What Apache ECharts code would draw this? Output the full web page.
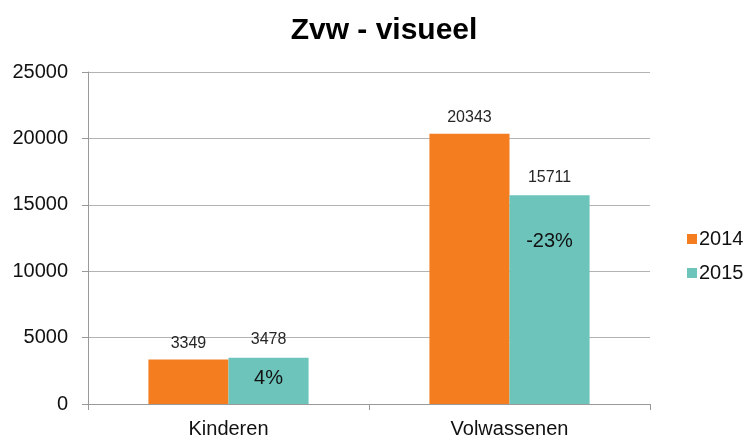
<!DOCTYPE html>
<html>
<head>
<meta charset="utf-8">
<script src="https://cdn.jsdelivr.net/npm/echarts@6/dist/echarts.min.js"></script>
<style>
  html, body { margin: 0; padding: 0; background: #fff; }
  #chart { width: 744px; height: 439px; }
</style>
</head>
<body>
<div id="chart"></div>
<script>
// data
const categories = ['Kinderen', 'Volwassenen'];
const values2014 = [3349, 20343];
const values2015 = [3478, 15711];
const changes = ['4%', '-23%'];
const yTicks = { min: 0, max: 25000, interval: 5000 };

const chart = echarts.init(document.getElementById('chart'));

// percent sits inside the 2015 bar, value above it
const pctLine = [58, 108];
const data2015 = values2015.map(function (v, i) {
    return {
        value: v,
        label: {
            formatter: '{v|' + v + '}\n{p|' + changes[i] + '}',
            rich: {
                v: { fontSize: 16, lineHeight: 20, color: '#262626', fontFamily: 'Liberation Sans' },
                p: { fontSize: 20, lineHeight: pctLine[i], color: '#111', fontFamily: 'Liberation Sans' }
            }
        }
    };
});

const option = {
    animation: false,
    title: {
        text: 'Zvw - visueel',
        left: 379,
        top: 11,
        textAlign: 'center',
        textStyle: { fontSize: 30, fontWeight: 'bold', color: '#000', fontFamily: 'Liberation Sans' }
    },
    legend: {
        orient: 'vertical',
        left: 682,
        top: 224,
        itemWidth: 10,
        itemHeight: 10,
        itemGap: 14,
        icon: 'rect',
        textStyle: { fontSize: 20, color: '#111', fontFamily: 'Liberation Sans', padding: [0, 0, 0, -3] },
        data: ['2014', '2015']
    },
    grid: { left: 88, right: 94, top: 72, bottom: 34 },
    xAxis: {
        type: 'category',
        data: categories,
        axisLine: { lineStyle: { color: '#999' } },
        axisTick: { show: true, length: 6, lineStyle: { color: '#999' } },
        axisLabel: { fontSize: 20, color: '#111', margin: 15, fontFamily: 'Liberation Sans' }
    },
    yAxis: {
        type: 'value',
        min: yTicks.min,
        max: yTicks.max,
        interval: yTicks.interval,
        axisLine: { show: true, lineStyle: { color: '#999' } },
        axisTick: { show: true, length: 6, lineStyle: { color: '#999' } },
        splitLine: { lineStyle: { color: '#b3b3b3' } },
        axisLabel: {
            fontSize: 20, color: '#111', margin: 20, fontFamily: 'Liberation Sans',
            formatter: function (v) { return String(v); }
        }
    },
    series: [
        {
            name: '2014',
            type: 'bar',
            data: values2014,
            barGap: 0,
            barCategoryGap: '43%',
            itemStyle: { color: '#F47D20' },
            label: {
                show: true,
                position: 'top',
                distance: 8,
                fontSize: 16,
                color: '#262626',
                fontFamily: 'Liberation Sans'
            }
        },
        {
            name: '2015',
            type: 'bar',
            data: data2015,
            itemStyle: { color: '#6CC4BA' },
            label: {
                show: true,
                position: ['50%', 0],
                align: 'center',
                verticalAlign: 'top',
                offset: [0, -28]
            }
        }
    ]
};

chart.setOption(option);
</script>
</body>
</html>
